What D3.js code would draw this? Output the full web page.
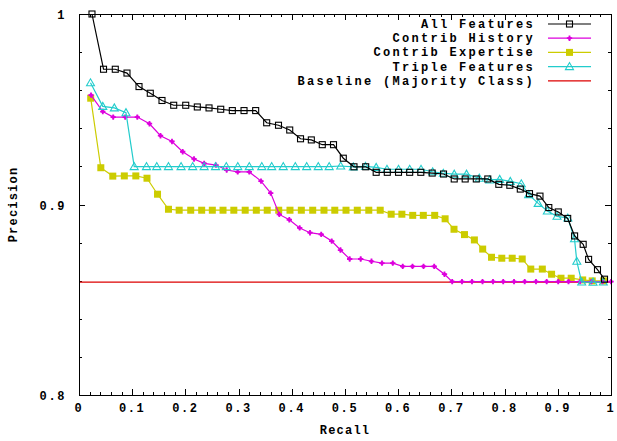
<!DOCTYPE html>
<html><head><meta charset="utf-8">
<script src="https://cdn.jsdelivr.net/npm/d3@7/dist/d3.min.js"></script>
<style>
html,body{margin:0;padding:0;background:#fff;}
text{font-family:"Liberation Mono","DejaVu Sans Mono",monospace;font-weight:bold;}
</style></head>
<body><svg id="c" width="617" height="441"></svg>
<script>
const seriesNames = ["All Features","Contrib History","Contrib Expertise","Triple Features","Baseline (Majority Class)"];
const xTicks = [0,0.1,0.2,0.3,0.4,0.5,0.6,0.7,0.8,0.9,1];
const xTickLabels = ["0","0.1","0.2","0.3","0.4","0.5","0.6","0.7","0.8","0.9","1"];
const yTicks = [0.8,0.9,1];
const yTickLabels = ["0.8","0.9","1"];
const baseline = 0.8593;

const allRecall = [0.0244,0.0461,0.0682,0.0902,0.1128,0.1340,0.1560,0.1780,0.2006,0.2224,0.2444,0.2664,0.2882,0.3102,0.3321,0.3528,0.3750,0.3961,0.4164,0.4367,0.4573,0.4784,0.4968,0.5169,0.5389,0.5586,0.5795,0.6006,0.6216,0.6425,0.6639,0.6852,0.7053,0.7259,0.7468,0.7684,0.7891,0.8098,0.8295,0.8468,0.8665,0.8831,0.9009,0.9186,0.9316,0.9477,0.9579,0.9746,0.9878];
const allPrec = [1.0,0.9710,0.9710,0.9690,0.9619,0.9584,0.9546,0.9521,0.9521,0.9512,0.9507,0.9500,0.9493,0.9493,0.9493,0.9429,0.9416,0.9391,0.9345,0.9339,0.9314,0.9314,0.9243,0.9198,0.9198,0.9169,0.9169,0.9169,0.9169,0.9169,0.9165,0.9160,0.9134,0.9134,0.9134,0.9134,0.9106,0.9101,0.9081,0.9057,0.9044,0.8984,0.8961,0.8927,0.8835,0.8791,0.8712,0.8658,0.8608];

const histRecall = [0.0226,0.0447,0.0643,0.0868,0.1096,0.1325,0.1532,0.1748,0.1949,0.2162,0.2353,0.2575,0.2776,0.2983,0.3201,0.3421,0.3603,0.3765,0.3953,0.4148,0.4342,0.4553,0.4750,0.4915,0.5088,0.5295,0.5498,0.5695,0.5898,0.6085,0.6269,0.6476,0.6677,0.6870,0.7015,0.7199,0.7387,0.7585,0.7782,0.7974,0.8177,0.8378,0.8590,0.8791,0.9008,0.9201,0.9417,0.9630,0.9840,1.0];
const histPrec = [0.9574,0.9488,0.9459,0.9459,0.9459,0.9424,0.9361,0.9331,0.9277,0.9239,0.9216,0.9207,0.9181,0.9171,0.9171,0.9123,0.9060,0.8948,0.8920,0.8877,0.8852,0.8843,0.8808,0.8761,0.8714,0.8714,0.8702,0.8692,0.8692,0.8675,0.8675,0.8675,0.8675,0.8634,0.8595,0.8595,0.8595,0.8595,0.8595,0.8595,0.8595,0.8595,0.8595,0.8595,0.8595,0.8595,0.8595,0.8595,0.8595,0.8595];

const expRecall = [0.0220,0.0410,0.0635,0.0852,0.1068,0.1278,0.1476,0.1682,0.1883,0.2100,0.2306,0.2506,0.2707,0.2910,0.3124,0.3333,0.3538,0.3754,0.3966,0.4179,0.4393,0.4605,0.4808,0.5019,0.5231,0.5447,0.5662,0.5868,0.6069,0.6273,0.6472,0.6686,0.6882,0.7049,0.7246,0.7432,0.7588,0.7754,0.7947,0.8143,0.8331,0.8492,0.8709,0.8883,0.9060,0.9252,0.9468,0.9647,0.9861];
const expPrec = [0.9558,0.9193,0.9149,0.9150,0.9150,0.9138,0.9054,0.8975,0.8970,0.8970,0.8970,0.8970,0.8970,0.8970,0.8970,0.8970,0.8970,0.8970,0.8970,0.8970,0.8970,0.8970,0.8970,0.8970,0.8970,0.8970,0.8970,0.8949,0.8949,0.8943,0.8943,0.8943,0.8925,0.8870,0.8842,0.8814,0.8766,0.8723,0.8718,0.8718,0.8714,0.8661,0.8661,0.8634,0.8613,0.8613,0.8604,0.8599,0.8599];

const tripRecall = [0.0216,0.0447,0.0664,0.0883,0.1038,0.1269,0.1462,0.1682,0.1919,0.2137,0.2353,0.2566,0.2769,0.2985,0.3201,0.3436,0.3622,0.3840,0.4066,0.4280,0.4498,0.4703,0.4919,0.5156,0.5385,0.5586,0.5789,0.6006,0.6216,0.6429,0.6648,0.6848,0.7053,0.7284,0.7524,0.7720,0.7908,0.8107,0.8314,0.8453,0.8632,0.8803,0.8985,0.9188,0.9314,0.9357,0.9449,0.9662,0.9855];
const tripPrec = [0.9639,0.9515,0.9507,0.9482,0.9199,0.9199,0.9199,0.9199,0.9199,0.9199,0.9199,0.9199,0.9199,0.9199,0.9199,0.9199,0.9199,0.9199,0.9199,0.9199,0.9199,0.9199,0.9202,0.9197,0.9200,0.9195,0.9185,0.9185,0.9185,0.9185,0.9172,0.9164,0.9159,0.9159,0.9138,0.9129,0.9132,0.9121,0.9109,0.9052,0.9006,0.8966,0.8938,0.8929,0.8820,0.8702,0.8593,0.8592,0.8593];

const svg = d3.select("#c");
const L = 79, R = 611, T = 14, B = 395;
const x = d3.scaleLinear().domain([0,1]).range([L,R]);
const y = d3.scaleLinear().domain([0.8,1]).range([B,T]);

const colors = ["#000000","#dd00dd","#cccc00","#22cccc","#dd0000"];

// minor & major ticks
const xMinor = d3.range(0,1.0001,0.02);
const yMinor = d3.range(0.8,1.0001,0.02);
const tg = svg.append("g").attr("stroke","#000").attr("stroke-width",1).attr("shape-rendering","crispEdges");
xMinor.forEach(v=>{
  const major = Math.abs(v*10-Math.round(v*10))<1e-6;
  const len = major?6:3;
  const px = Math.round(x(v))+0.5;
  tg.append("line").attr("x1",px).attr("x2",px).attr("y1",B).attr("y2",B-len);
  tg.append("line").attr("x1",px).attr("x2",px).attr("y1",T).attr("y2",T+len);
});
yMinor.forEach(v=>{
  const major = Math.abs(v*10-Math.round(v*10))<1e-6;
  const len = major?6:3;
  const py = Math.round(y(v))+0.5;
  tg.append("line").attr("x1",L).attr("x2",L+len).attr("y1",py).attr("y2",py);
  tg.append("line").attr("x1",R).attr("x2",R-len).attr("y1",py).attr("y2",py);
});

// tick labels
svg.append("g").selectAll("text").data(xTicks).join("text")
  .attr("x",d=>x(d)).attr("y",412).attr("text-anchor","middle")
  .attr("font-size",12).attr("letter-spacing","1.6px")
  .text((d,i)=>xTickLabels[i]);
svg.append("g").selectAll("text").data(yTicks).join("text")
  .attr("x",66).attr("y",d=>y(d)+5).attr("text-anchor","end")
  .attr("font-size",12).attr("letter-spacing","1.6px")
  .text((d,i)=>yTickLabels[i]);

svg.append("text").attr("x",x(0.5)).attr("y",434).attr("text-anchor","middle")
  .attr("font-size",12).attr("letter-spacing","1.2px").text("Recall");
svg.append("text").attr("transform","translate(17,"+((T+B)/2)+") rotate(-90)")
  .attr("text-anchor","middle").attr("font-size",12).attr("letter-spacing","1.2px").text("Precision");

// baseline
svg.append("line").attr("x1",x(0)).attr("x2",x(1)).attr("y1",y(baseline)).attr("y2",y(baseline))
  .attr("stroke",colors[4]).attr("stroke-width",1.2);

const line = d3.line().x(d=>x(d[0])).y(d=>y(d[1]));
function marker(g, type, cx, cy, col){
  if(type===0){
    g.append("rect").attr("x",cx-3).attr("y",cy-3).attr("width",6).attr("height",6)
      .attr("fill","none").attr("stroke",col).attr("stroke-width",1.1);
  } else if(type===1){
    g.append("path").attr("d",d3.symbol(d3.symbolCross,16)()).attr("transform",`translate(${cx},${cy})`).attr("fill",col);
    g.append("circle").attr("cx",cx).attr("cy",cy).attr("r",1.8).attr("fill",col);
  } else if(type===2){
    g.append("rect").attr("x",cx-3.5).attr("y",cy-3.5).attr("width",7).attr("height",7).attr("fill",col);
  } else if(type===3){
    g.append("path").attr("d",`M${cx-4},${cy+3}L${cx},${cy-4}L${cx+4},${cy+3}Z`)
      .attr("fill","none").attr("stroke",col).attr("stroke-width",1.1);
  }
}
const series = [
  [allRecall,allPrec],[histRecall,histPrec],[expRecall,expPrec],[tripRecall,tripPrec]
];
[2,1,3,0].forEach(si=>{
  const [rx,py] = series[si];
  const data = rx.map((r,i)=>[r,py[i]]);
  const g = svg.append("g");
  g.append("path").datum(data).attr("d",line).attr("fill","none")
    .attr("stroke",colors[si]).attr("stroke-width",1.2);
  data.forEach(d=>marker(g,si,x(d[0]),y(d[1]),colors[si]));
});

// border
svg.append("rect").attr("x",L+0.5).attr("y",T+0.5).attr("width",R-L).attr("height",B-T)
  .attr("fill","none").attr("stroke","#000").attr("stroke-width",1).attr("shape-rendering","crispEdges");

// legend
const lg = svg.append("g");
seriesNames.forEach((n,i)=>{
  const ly = 24 + i*14.2;
  lg.append("text").attr("x",535).attr("y",ly+4).attr("text-anchor","end")
    .attr("font-size",12).attr("letter-spacing","2.3px").text(n);
  lg.append("line").attr("x1",548).attr("x2",591).attr("y1",ly).attr("y2",ly)
    .attr("stroke",colors[i]).attr("stroke-width",1.2);
  if(i<4) marker(lg,i,569.5,ly,colors[i]);
});
</script></body></html>
